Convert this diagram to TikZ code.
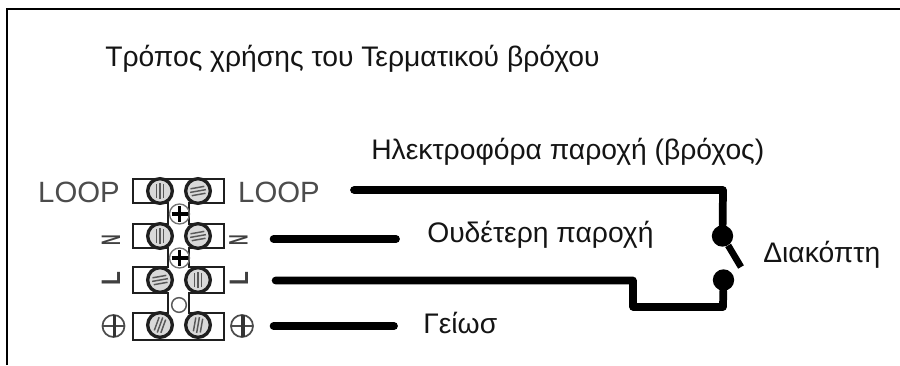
\documentclass[tikz,border=0pt]{standalone}
\usepackage{fontspec}
\usepackage{graphicx}
\setmainfont{Liberation Sans}
\usetikzlibrary{calc}
\tikzset{
  x=0.75pt,y=-0.75pt,
  frameln/.style={line width=1.5pt,black},
  wire/.style={line width=5.8pt,black,line cap=round,line join=round},
  blockln/.style={line width=1.6pt,draw=black!88,fill=white},
  screw/.style={circle,draw=black!88,line width=2.5pt,fill=black!15,minimum size=18.5pt,inner sep=0pt},
  slot/.style={line width=1.1pt,black!65},
  term/.style={circle,fill=black,minimum size=16pt,inner sep=0pt},
  lbl/.style={inner sep=0pt,anchor=base west,font=\fontsize{21.2pt}{24pt}\selectfont,text=black!92},
  grey/.style={inner sep=0pt,text=black!70,font=\fontsize{22pt}{24pt}\selectfont},
  small/.style={inner sep=0pt,text=black!75,font=\bfseries\fontsize{20pt}{22pt}\selectfont,rotate=90},
}
\newcommand{\earthsym}[1]{\draw[black!70,line width=1.3pt] (#1) circle[radius=11];
  \draw[black!70,line width=1.3pt] ($(#1)+(-11,0)$) -- ($(#1)+(11,0)$);
  \draw[black!80,line width=2.4pt] ($(#1)+(1,-11)$) -- ($(#1)+(1,11)$);}
\begin{document}
\begin{tikzpicture}
\useasboundingbox (0,0) rectangle (900,365);
\fill[white] (0,0) rectangle (900,365);
\coordinate (fa) at (7,365);
\coordinate (fb) at (7,9);
\coordinate (fc) at (900,9);
\draw[frameln] (fa) -- (fb) -- (fc);
\node[lbl] (title) at (105,66) {Τρόπος χρήσης του Τερματικού βρόχου};
\node[lbl] (live) at (371,159) {Ηλεκτροφόρα παροχή (βρόχος)};
\node[lbl] (neut) at (427,242) {Ουδέτερη παροχή};
\node[lbl] (sw) at (763,262) {Διακόπτη};
\node[lbl] (gnd) at (423,333) {Γείωσ};
% terminal block
\draw[blockln] (133,179) -- (224,179) -- (224,203) -- (189,203) -- (189,224) -- (224,224) -- (224,248) -- (189,248) -- (189,267) -- (224,267) -- (224,293) -- (189,293) -- (189,313) -- (224,313) -- (224,340) -- (133,340) -- (133,313) -- (168,313) -- (168,293) -- (133,293) -- (133,267) -- (168,267) -- (168,248) -- (133,248) -- (133,224) -- (168,224) -- (168,203) -- (133,203) -- cycle;
\foreach \n/\px/\py/\ang in {a/160/191/90,b/198/191/10,c/160/236/90,d/198/236/10,e/160/280/10,f/198/280/90,g/160/325/70,h/198/325/80}{
  \node[screw] (s\n) at (\px,\py) {};
  \draw[slot,rotate around={\ang:(s\n)}] ($(s\n)+(-7,-3.5)$) -- ($(s\n)+(7,-3.5)$) ($(s\n)+(-8,0)$) -- ($(s\n)+(8,0)$) ($(s\n)+(-7,3.5)$) -- ($(s\n)+(7,3.5)$);
}
\foreach \n/\py in {p/214,q/258}{
  \node[circle,draw=black!55,line width=1pt,minimum size=15pt,inner sep=0pt] (\n) at (179.5,\py) {};
  \draw[black,line width=2.6pt] ($(\n)+(-8,0)$) -- ($(\n)+(8,0)$) ($(\n)+(0,-8)$) -- ($(\n)+(0,8)$);
}
\node[circle,draw=black!65,line width=1.1pt,minimum size=11pt,inner sep=0pt] (hole) at (179,305) {};
% side labels
\node[grey] (loopl) at (79,192) {LOOP};
\node[grey] (loopr) at (279,192) {LOOP};
\node[small] (nl) at (111,240) {\scalebox{0.55}[1]{N}};
\node[small] (nr) at (238.5,240) {\scalebox{0.55}[1]{N}};
\node[small] (ll) at (111,279) {\scalebox{0.85}[1]{L}};
\node[small] (lr) at (239,279) {\scalebox{0.85}[1]{L}};
\coordinate (el) at (113.5,326);
\coordinate (er) at (242,326);
\earthsym{el}
\earthsym{er}
% wires
\node[term] (t1) at (722.5,236) {};
\node[term] (t2) at (723.5,280) {};
\coordinate (w1) at (354,190);
\coordinate (w2) at (275.6,280.5);
\coordinate (w3) at (273.6,239);
\coordinate (w3e) at (396,239);
\coordinate (w4) at (273.6,326);
\coordinate (w4e) at (394,326);
\coordinate (arm) at (741,267);
\draw[wire] (w1) -- (723,190) -- (t1);
\draw[wire] (w2) -- (633,280.5) -- (633,307) -- (723,307) -- (t2);
\draw[wire] (w3) -- (w3e);
\draw[wire] (w4) -- (w4e);
\draw[line width=5pt,black] (t1) -- (arm);
\end{tikzpicture}
\end{document}
